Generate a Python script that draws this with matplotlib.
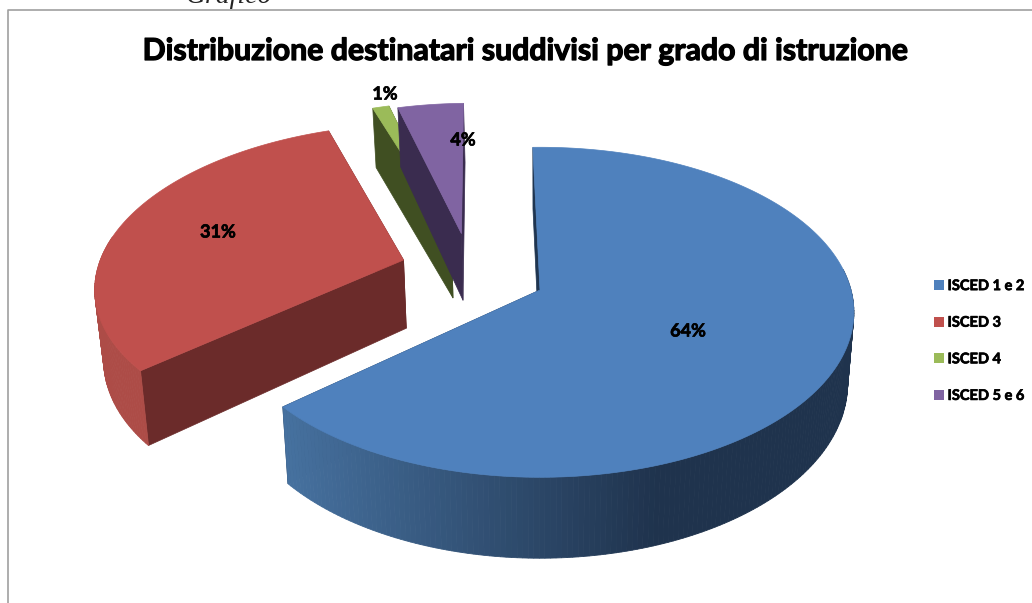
import matplotlib
matplotlib.use('Agg')
import matplotlib.pyplot as plt
import matplotlib.patheffects as pe
import numpy as np
from matplotlib.colors import LinearSegmentedColormap
from matplotlib.patches import Patch

categories = ['ISCED 1 e 2', 'ISCED 3', 'ISCED 4', 'ISCED 5 e 6']
values = [64, 31, 1, 4]
pct_labels = ['64%', '31%', '1%', '4%']
title = 'Distribuzione destinatari suddivisi per grado di istruzione'

top_colors = ['#4f81bd', '#c0504d', '#9bbb59', '#8064a2']
side_colors = ['#1f3550', '#6b2b2a', '#404f22', '#3a2c4f']
rim_dark = ['#1f334d', '#a0443f', '#5a7030', '#4a3a60']
rim_light = ['#46719f', '#ad4c47', '#7a9a40', '#6a5288']

# spostamento delle fette (esplosione) nel piano della torta
explode = [(0.0, 0.0), (-0.45, 0.19), (-0.30, 0.38), (-0.265, 0.365)]
label_pos = [(688, 331), (218, 232), (385, 94), (463, 140)]

# geometria della vista 3D, in pixel
cx, cy = 540, 290
rx, ry = 311, 162
persp = 0.135
depth = 70
shrink = 0.98
start_deg = -1.5

bold = [pe.withStroke(linewidth=0.5, foreground='black')]


def project(u, v, bottom=False):
    s = 1.0 / (1.0 + persp * v)
    if bottom:
        return cx + rx * u * s * shrink, cy - ry * v * s + depth * s
    return cx + rx * u * s, cy - ry * v * s


fig = plt.figure(figsize=(10.32, 6.03), dpi=100)
ax = fig.add_axes([0, 0, 1, 1])
ax.set_xlim(0, 1032)
ax.set_ylim(603, 0)
ax.axis('off')

# didascalia tagliata in alto e cornice del grafico
ax.text(185, 3, 'Grafico', family='Liberation Serif', style='italic', fontsize=20, va='baseline',
        color='#222222', clip_on=True)
ax.plot([8, 8, 1032], [603, 10, 10], color='#a0a0a0', lw=1.2)

edges = start_deg + np.concatenate([[0], np.cumsum(values)]) * 3.6

for i in [0, 1, 3, 2]:
    a0, a1 = np.radians(edges[i]), np.radians(edges[i + 1])
    th = np.linspace(a0, a1, max(int(values[i] * 4), 8))
    eu, ev = explode[i]
    u = eu + np.sin(th)
    v = ev + np.cos(th)
    xt, yt = project(u, v)
    xb, yb = project(u, v, bottom=True)

    # facce radiali
    ax0, ay0 = project(eu, ev)
    bx0, by0 = project(eu, ev, bottom=True)
    for j in [0, -1]:
        ax.fill([ax0, xt[j], xb[j], bx0], [ay0, yt[j], yb[j], by0],
                color=side_colors[i], lw=0.5, zorder=2 + i)

    # bordo esterno con sfumatura, solo la parte verso chi guarda
    cmap = LinearSegmentedColormap.from_list('rim', [rim_light[i], rim_dark[i]])
    for k in range(len(th) - 1):
        if np.cos(th[k]) > 0.14:
            continue
        t = np.clip((xt[k] - 286) / 374, 0, 1)
        ax.fill([xt[k], xt[k + 1], xb[k + 1], xb[k]], [yt[k], yt[k + 1], yb[k + 1], yb[k]],
                color=cmap(t), lw=0.6, zorder=2 + i)

    # superficie superiore
    ax.fill(np.r_[ax0, xt], np.r_[ay0, yt], color=top_colors[i], lw=0.5, zorder=2 + i)

for (x, y), lab in zip(label_pos, pct_labels):
    ax.text(x, y, lab, ha='center', va='center', fontsize=13, fontweight='bold',
            family='Lato', color='black', zorder=10, path_effects=bold)

ax.text(526, 51, title, ha='center', va='center', fontsize=21.8, fontweight='bold',
        family='Lato', color='black', path_effects=[pe.withStroke(linewidth=0.9, foreground='black')])

handles = [Patch(facecolor=c, edgecolor='none') for c in top_colors]
leg = ax.legend(handles, categories, loc='center left', bbox_to_anchor=(934 / 1032, 1 - 341 / 603),
                frameon=False, prop={'family': 'Lato', 'weight': 'bold', 'size': 10.5},
                handlelength=0.68, handleheight=0.68, handletextpad=0.25, labelspacing=1.55,
                borderpad=0, borderaxespad=0)
for t in leg.get_texts():
    t.set_path_effects(bold)

fig.savefig('out.png', dpi=100)
